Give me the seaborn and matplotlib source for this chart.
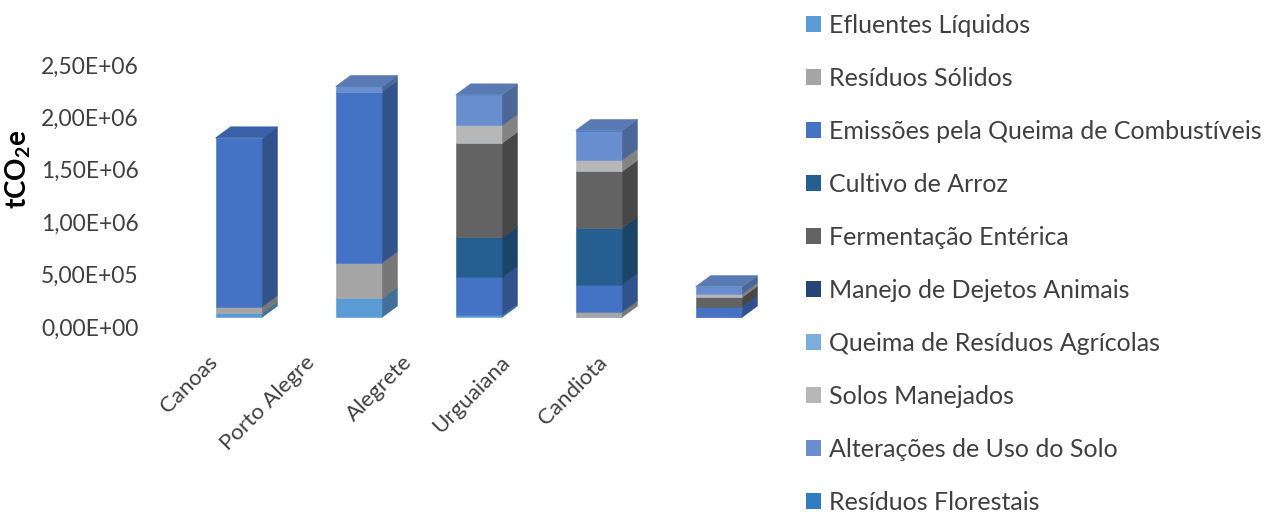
import numpy as np
import matplotlib
matplotlib.use("Agg")
import matplotlib.pyplot as plt
from matplotlib.patches import Patch, Polygon
from matplotlib.colors import to_rgb
from matplotlib.transforms import blended_transform_factory
import seaborn as sns

# Emissions by sector (tCO2e) for five municipalities
cities = ["Canoas", "Porto Alegre", "Alegrete", "Urguaiana", "Candiota"]
sectors = [
    "Efluentes Líquidos",
    "Resíduos Sólidos",
    "Emissões pela Queima de Combustíveis",
    "Cultivo de Arroz",
    "Fermentação Entérica",
    "Manejo de Dejetos Animais",
    "Queima de Resíduos Agrícolas",
    "Solos Manejados",
    "Alterações de Uso do Solo",
    "Resíduos Florestais",
]
efluentes_liquidos = [0.04e6, 0.18e6, 0.02e6, 0.00e6, 0.00e6]
residuos_solidos = [0.06e6, 0.34e6, 0.00e6, 0.05e6, 0.00e6]
queima_combustiveis = [1.61e6, 1.63e6, 0.36e6, 0.26e6, 0.10e6]
cultivo_arroz = [0.00e6, 0.00e6, 0.38e6, 0.54e6, 0.00e6]
fermentacao_enterica = [0.00e6, 0.00e6, 0.90e6, 0.54e6, 0.09e6]
manejo_dejetos = [0.00e6, 0.00e6, 0.00e6, 0.00e6, 0.00e6]
queima_residuos_agricolas = [0.00e6, 0.00e6, 0.00e6, 0.00e6, 0.00e6]
solos_manejados = [0.00e6, 0.00e6, 0.17e6, 0.11e6, 0.03e6]
alteracoes_uso_solo = [0.00e6, 0.05e6, 0.29e6, 0.28e6, 0.07e6]
residuos_florestais = [0.00e6, 0.00e6, 0.00e6, 0.00e6, 0.00e6]

series = [
    efluentes_liquidos, residuos_solidos, queima_combustiveis, cultivo_arroz,
    fermentacao_enterica, manejo_dejetos, queima_residuos_agricolas,
    solos_manejados, alteracoes_uso_solo, residuos_florestais,
]
colors = ["#5B9BD5", "#A5A5A5", "#4472C4", "#255E91", "#636363",
          "#264478", "#7CAFDD", "#B7B7B7", "#698ED0", "#327DC2"]
y_ticks = [0, 0.5e6, 1.0e6, 1.5e6, 2.0e6, 2.5e6]

# 3D look: front faces lifted off the floor edge, depth projected up-right
BAR_W = 0.39
DEPTH_DX = 0.125          # category units
DEPTH_DY = 0.105e6        # value units
FLOOR_LIFT = 0.095e6      # value units

sns.set_theme(style="white")
plt.rcParams["font.family"] = ["Lato", "DejaVu Sans"]
plt.rcParams["mathtext.fontset"] = "custom"
plt.rcParams["mathtext.bf"] = "Lato:bold"
plt.rcParams["mathtext.rm"] = "Lato"

W, H = 1266, 518
fig = plt.figure(figsize=(W / 100, H / 100), dpi=100)
fig.patch.set_facecolor("white")
ax_l, ax_r, ax_b, ax_t = 150, 790, 327, 65
ax = fig.add_axes([ax_l / W, 1 - ax_b / H, (ax_r - ax_l) / W, (ax_b - ax_t) / H])

def shade(c, f):
    r, g, b = to_rgb(c)
    return (r * f, g * f, b * f)

n = len(cities)
bottom = np.zeros(n)
top_color = [None] * n
for vals, col in zip(series, colors):
    vals = np.asarray(vals, dtype=float)
    sns.barplot(x=cities, y=vals, bottom=bottom + FLOOR_LIFT, color=col,
                saturation=1, width=BAR_W, errorbar=None, ax=ax,
                linewidth=0.4, edgecolor=col)
    for i in range(n):
        if vals[i] <= 0:
            continue
        b0 = bottom[i] + FLOOR_LIFT
        b1 = b0 + vals[i]
        xr = i + BAR_W / 2
        side = Polygon([(xr, b0), (xr + DEPTH_DX, b0 + DEPTH_DY),
                        (xr + DEPTH_DX, b1 + DEPTH_DY), (xr, b1)],
                       closed=True, facecolor=shade(col, 0.72),
                       edgecolor=shade(col, 0.72), linewidth=0.4)
        ax.add_patch(side)
        top_color[i] = col
    bottom = bottom + vals

for i in range(n):
    T = bottom[i] + FLOOR_LIFT
    xl, xr = i - BAR_W / 2, i + BAR_W / 2
    tc = shade(top_color[i], 0.86)
    ax.add_patch(Polygon([(xl, T), (xl + DEPTH_DX, T + DEPTH_DY),
                          (xr + DEPTH_DX, T + DEPTH_DY), (xr, T)],
                         closed=True, facecolor=tc, edgecolor=tc, linewidth=0.4))

ax.set_xlim((ax_l - 239) / 120, (ax_r - 239) / 120)
ax.set_ylim(0, 2.5e6)
ax.set_yticks(y_ticks)
ax.set_yticklabels([f"{v:.2E}".replace(".", ",") for v in y_ticks],
                   fontsize=16.5, color="#404040")
ax.tick_params(axis="y", length=0, pad=8)
ax.set_xticks([])
ax.set_xlabel("")
for s in ax.spines.values():
    s.set_visible(False)
ax.set_facecolor("none")

ax.set_ylabel(r"$\mathbf{tCO_2e}$", fontsize=20, color="#000000")
ax.yaxis.set_label_coords(-0.183, 0.6)

# category labels sit along the floor's front edge
trans = blended_transform_factory(ax.transData, ax.transAxes)
LABEL_X0, LABEL_STEP, LABEL_Y = -0.26, 0.81, -0.095
for i, c in enumerate(cities):
    ax.text(LABEL_X0 + LABEL_STEP * i, LABEL_Y, c, transform=trans,
            rotation=45, rotation_mode="anchor", ha="right", va="top",
            fontsize=16, color="#404040")

handles = [Patch(facecolor=c, edgecolor="none") for c in colors]
fig.legend(handles, sectors, loc="upper left",
           bbox_to_anchor=(806 / W, 1 - 14 / H), frameon=False,
           fontsize=18, labelcolor="#404040", handlelength=0.62,
           handleheight=0.62, handletextpad=0.3, labelspacing=1.2,
           borderpad=0, borderaxespad=0)

fig.savefig("out.png", dpi=100, facecolor="white")
